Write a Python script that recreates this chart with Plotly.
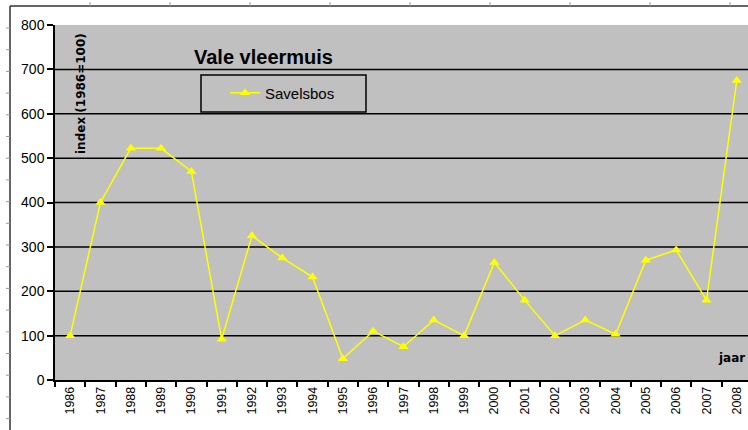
import plotly.graph_objects as go

years = [str(y) for y in range(1986, 2009)]
savelsbos = [100, 400, 522, 522, 470, 92, 325, 275, 232, 48, 110, 75, 135, 100,
             265, 180, 100, 135, 103, 270, 293, 180, 675]
y_ticks = [0, 100, 200, 300, 400, 500, 600, 700, 800]
grid_vals = [100, 200, 300, 400, 500, 600, 700]

W, H = 748, 430
ML, MT, MB, MR = 55, 25, 50, 0
PW, PH = W - ML - MR, H - MT - MB


def px(x):
    return (x - ML) / PW


def py(y):
    return (H - MB - y) / PH


fig = go.Figure()
fig.add_trace(go.Scatter(
    x=years, y=savelsbos, mode="lines+markers", name="Savelsbos",
    line=dict(color="#FFFF00", width=1.5),
    marker=dict(symbol="triangle-up", size=9, color="#FFFF00"),
    cliponaxis=False,
))

for v in grid_vals:
    fig.add_hline(y=v, line=dict(color="#000000", width=1.5), layer="below")

shapes = []
# legend box
shapes.append(dict(type="rect", xref="paper", yref="paper",
                   x0=px(201), x1=px(366), y0=py(112), y1=py(75),
                   line=dict(color="#000000", width=1.5), fillcolor="rgba(0,0,0,0)"))
# page frame lines
shapes.append(dict(type="line", xref="paper", yref="paper",
                   x0=px(10), x1=px(748), y0=py(6), y1=py(6),
                   line=dict(color="#333333", width=1.5)))
shapes.append(dict(type="line", xref="paper", yref="paper",
                   x0=px(10), x1=px(10), y0=py(6), y1=py(430),
                   line=dict(color="#333333", width=1.5)))
for xx in range(90, 748, 80):
    shapes.append(dict(type="line", xref="paper", yref="paper",
                       x0=px(xx), x1=px(xx), y0=py(2), y1=py(6),
                       line=dict(color="#999999", width=1)))
yy = 28
while yy < 430:
    shapes.append(dict(type="line", xref="paper", yref="paper",
                       x0=px(6), x1=px(10), y0=py(yy), y1=py(yy),
                       line=dict(color="#999999", width=1)))
    yy += 21.7
for s in shapes:
    fig.add_shape(**s)

fig.add_annotation(text="<b>Vale vleermuis</b>", xref="paper", yref="paper",
                   x=px(192), y=py(57), xanchor="left", yanchor="middle",
                   showarrow=False, font=dict(family="Liberation Sans, Arial", size=20, color="#000000"))
fig.add_annotation(text="<b>index (1986=100)</b>", xref="paper", yref="paper",
                   x=px(81), y=py(94), xanchor="center", yanchor="middle", textangle=-90,
                   showarrow=False, font=dict(family="DejaVu Sans", size=12, color="#000000"))
fig.add_annotation(text="<b>jaar</b>", xref="paper", yref="paper",
                   x=px(747), y=py(358), xanchor="right", yanchor="middle",
                   showarrow=False, font=dict(family="DejaVu Sans", size=12, color="#000000"))

fig.update_layout(
    width=W, height=H,
    margin=dict(l=ML, r=MR, t=MT, b=MB, pad=0, autoexpand=False),
    paper_bgcolor="#FFFFFF", plot_bgcolor="#C0C0C0",
    font=dict(family="Liberation Sans, Arial", color="#000000"),
    showlegend=True,
    legend=dict(x=px(225), y=py(93), xanchor="left", yanchor="middle",
                bgcolor="rgba(0,0,0,0)", borderwidth=0,
                font=dict(size=15, color="#000000")),
    xaxis=dict(type="category", range=[-0.5, 22.37], tickson="boundaries",
               ticks="outside", ticklen=5, tickcolor="#000000", tickwidth=1.5,
               showline=True, linecolor="#000000", linewidth=1.5,
               showgrid=False, tickangle=-90, tickfont=dict(size=12.5),
               zeroline=False, automargin=False),
    yaxis=dict(range=[0, 800], tickvals=y_ticks, ticks="outside", ticklen=6,
               tickcolor="#000000", tickwidth=1.5, showline=True,
               linecolor="#000000", linewidth=1.5, showgrid=False, zeroline=False,
               tickfont=dict(size=14), automargin=False),
)

fig.write_html("out.html", config={"displayModeBar": False},
               post_script="document.body.style.margin='0';")
